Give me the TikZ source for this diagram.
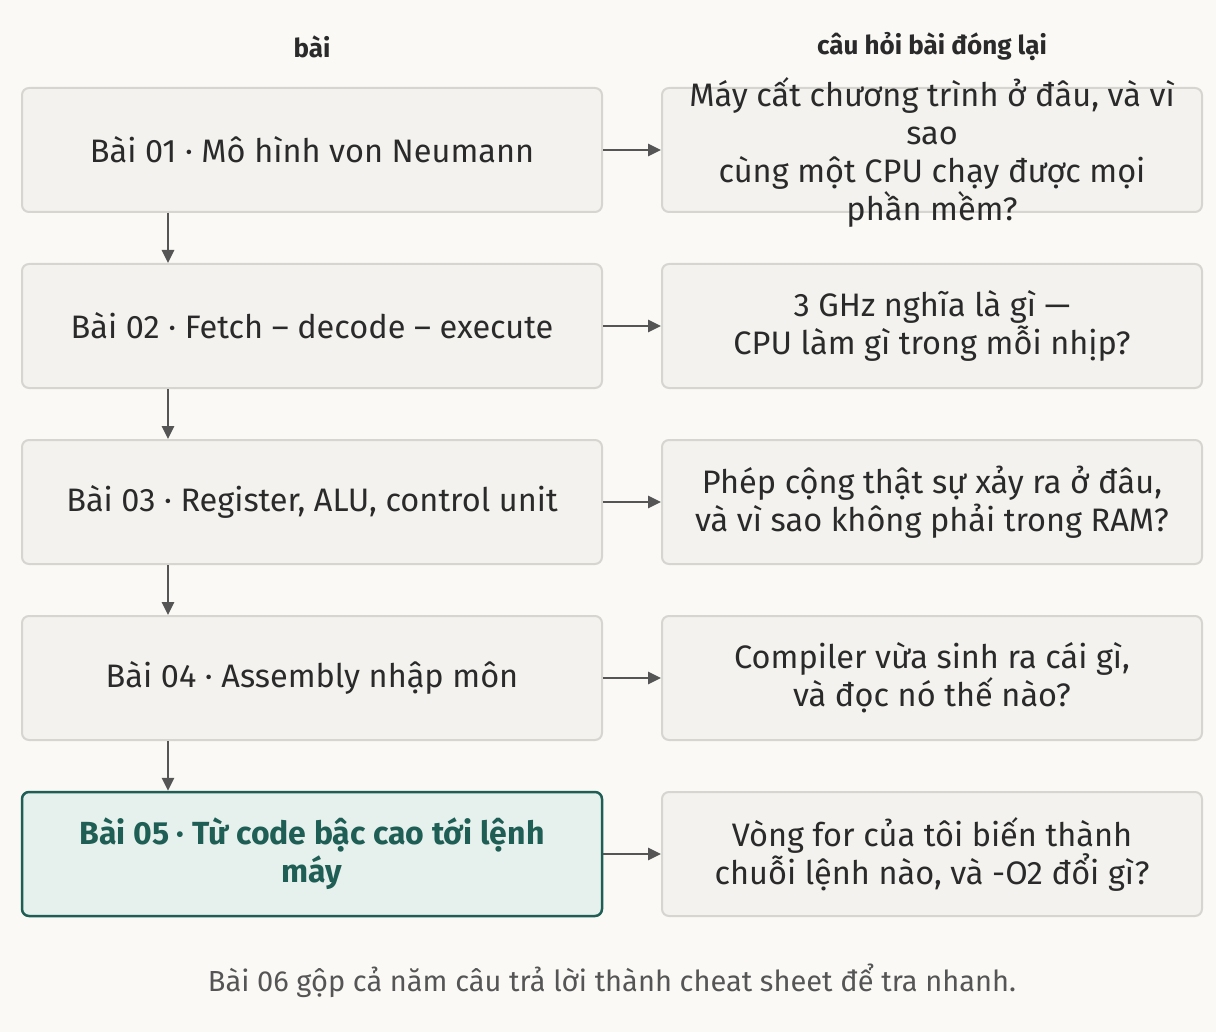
\documentclass[tikz,border=0pt]{standalone}
\usepackage{fontspec}
\setmainfont{Fira Sans}
\usetikzlibrary{arrows.meta}
\definecolor{bg}{HTML}{FAF9F6}
\definecolor{boxf}{HTML}{F3F2EE}
\definecolor{boxd}{HTML}{D6D5CF}
\definecolor{hif}{HTML}{E6F0EC}
\definecolor{hid}{HTML}{1F5E55}
\definecolor{ink}{HTML}{2A2A2A}
\definecolor{arr}{HTML}{555555}
\begin{document}
\begin{tikzpicture}[x=1pt,y=-1pt,
  box/.style={draw=boxd,fill=boxf,line width=2pt,rounded corners=7pt,minimum width=580pt,minimum height=124pt,align=center,text=ink,font=\fontsize{32.5}{38}\selectfont,inner sep=0pt},
  qbox/.style={box,minimum width=540pt},
  hi/.style={draw=hid,fill=hif,line width=2.5pt,text=hid,font=\fontsize{32}{38}\selectfont\bfseries},
  hd/.style={font=\fontsize{26}{28}\selectfont\bfseries,text=ink},
  con/.style={draw=arr,line width=2.8pt,-{Triangle[length=13pt,width=12pt]}}]
\fill[bg] (0,0) rectangle (1216,1032);
\node[hd] (h1) at (312,47) {bài};
\node[hd] (h2) at (932,47) {câu hỏi bài đóng lại};
\node[box] (b1) at (312,150) {Bài 01 · Mô hình von Neumann};
\node[box] (b2) at (312,326) {Bài 02 · Fetch – decode – execute};
\node[box] (b3) at (312,502) {Bài 03 · Register, ALU, control unit};
\node[box] (b4) at (312,678) {Bài 04 · Assembly nhập môn};
\node[box,hi] (b5) at (312,854) {Bài 05 · Từ code bậc cao tới lệnh\\máy};
\node[qbox] (q1) at (932,150) {};
\node[text=ink,font=\fontsize{32.5}{38}\selectfont,align=center] (q1t) at (932,152) {Máy cất chương trình ở đâu, và vì\\sao\\cùng một CPU chạy được mọi\\phần mềm?};
\node[qbox] (q2) at (932,326) {3 GHz nghĩa là gì —\\CPU làm gì trong mỗi nhịp?};
\node[qbox] (q3) at (932,502) {Phép cộng thật sự xảy ra ở đâu,\\và vì sao không phải trong RAM?};
\node[qbox] (q4) at (932,678) {Compiler vừa sinh ra cái gì,\\và đọc nó thế nào?};
\node[qbox] (q5) at (932,854) {Vòng for của tôi biến thành\\chuỗi lệnh nào, và -O2 đổi gì?};
\foreach \i in {1,...,5}{\draw[con] (b\i.east) -- (q\i.west);}
\foreach \a/\b in {1/2,2/3,3/4,4/5}{\draw[con] (b\a.south -| 168,0) -- (b\b.north -| 168,0);}
\node[font=\fontsize{29}{30}\selectfont,text=arr] (ft) at (612,981) {Bài 06 gộp cả năm câu trả lời thành cheat sheet để tra nhanh.};
\end{tikzpicture}
\end{document}
